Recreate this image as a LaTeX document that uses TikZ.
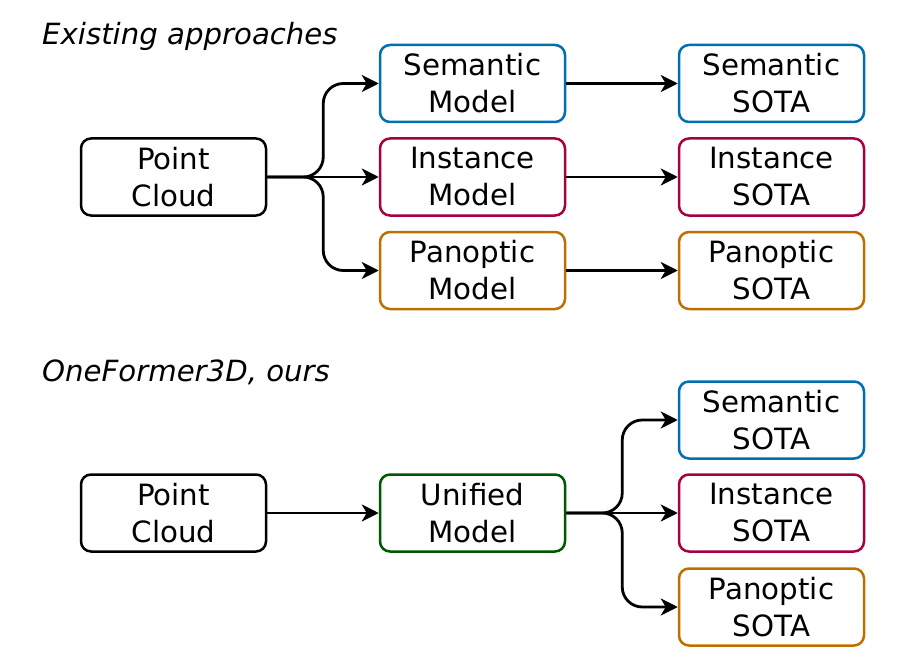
\documentclass[tikz,border=0pt]{standalone}
\usepackage{fontspec}
\setmainfont{DejaVu Sans}
\usetikzlibrary{arrows.meta}
\definecolor{semblue}{HTML}{006EAF}
\definecolor{insred}{HTML}{A50040}
\definecolor{panorange}{HTML}{BD7000}
\definecolor{unigreen}{HTML}{005700}
\begin{document}
\begin{tikzpicture}[x=1pt,y=-1pt,
  box/.style={draw,line width=2.5pt,rounded corners=10pt,minimum width=185pt,minimum height=77pt,align=center,font=\fontsize{29.3}{37}\selectfont},
  arr/.style={line width=2.8pt,-{Stealth[length=17pt,width=17pt,inset=5pt]},rounded corners=20pt},
  title/.style={anchor=base west,inner sep=0pt,font=\fontsize{29.2}{34}\selectfont\itshape}]
  \useasboundingbox (0,0) rectangle (912,663);
  % existing approaches
  \node [title] (toptitle) at (42,45) {Existing approaches};
  \node [box] (pc) at (173.5,177) {Point\\Cloud};
  \node [box,semblue] (sem) at (472.5,83.5) {\textcolor{black}{Semantic}\\\textcolor{black}{Model}};
  \node [box,insred] (ins) at (472.5,177) {\textcolor{black}{Instance}\\\textcolor{black}{Model}};
  \node [box,panorange] (pan) at (472.5,270.5) {\textcolor{black}{Panoptic}\\\textcolor{black}{Model}};
  \node [box,semblue] (semsota) at (771.5,83.5) {\textcolor{black}{Semantic}\\\textcolor{black}{SOTA}};
  \node [box,insred] (inssota) at (771.5,177) {\textcolor{black}{Instance}\\\textcolor{black}{SOTA}};
  \node [box,panorange] (pansota) at (771.5,270.5) {\textcolor{black}{Panoptic}\\\textcolor{black}{SOTA}};
  \draw [arr] (pc.east) -- ++(56,0) |- (sem.west);
  \draw [arr] (pc.east) -- (ins.west);
  \draw [arr] (pc.east) -- ++(56,0) |- (pan.west);
  \draw [arr] (sem) -- (semsota);
  \draw [arr] (ins) -- (inssota);
  \draw [arr] (pan) -- (pansota);

  % ours
  \node [title] (bottitle) at (42,381) {OneFormer3D, ours};
  \node [box] (pcb) at (173.5,513) {Point\\Cloud};
  \node [box,unigreen] (uni) at (472.5,513) {\textcolor{black}{Unified}\\\textcolor{black}{Model}};
  \node [box,semblue] (semb) at (771.5,420) {\textcolor{black}{Semantic}\\\textcolor{black}{SOTA}};
  \node [box,insred] (insb) at (771.5,513) {\textcolor{black}{Instance}\\\textcolor{black}{SOTA}};
  \node [box,panorange] (panb) at (771.5,607) {\textcolor{black}{Panoptic}\\\textcolor{black}{SOTA}};
  \draw [arr] (pcb) -- (uni);
  \draw [arr] (uni.east) -- ++(56,0) |- (semb.west);
  \draw [arr] (uni.east) -- (insb.west);
  \draw [arr] (uni.east) -- ++(56,0) |- (panb.west);
\end{tikzpicture}
\end{document}
